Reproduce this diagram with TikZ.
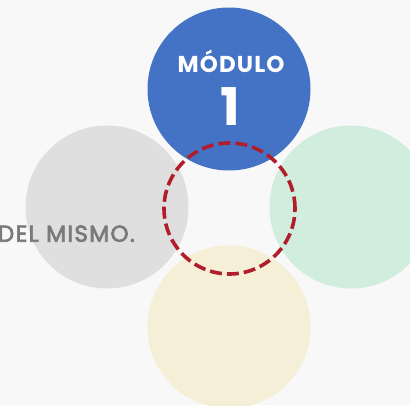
\documentclass[tikz,border=0pt]{standalone}
\usepackage{fontspec}
\setmainfont{Poppins}
\definecolor{bgcol}{HTML}{F8F8F8}
\definecolor{modblue}{HTML}{4472C4}
\definecolor{modgray}{HTML}{DFDFDF}
\definecolor{modgreen}{HTML}{D1EDDE}
\definecolor{modyellow}{HTML}{F5EFD7}
\definecolor{ringred}{HTML}{B01E2B}
\definecolor{textgray}{HTML}{7A7A7A}
\begin{document}
\begin{tikzpicture}[x=1pt,y=-1pt,
    bubble/.style={circle,inner sep=0pt,minimum size=163pt},
    ring/.style={circle,inner sep=0pt,minimum size=131pt,draw=ringred,line width=3.6pt,dash pattern=on 12pt off 5pt}]
    \useasboundingbox (0,0) rectangle (410,405);
    \clip (0,0) rectangle (410,405);
    \fill[bgcol](0,0) rectangle (410,405);
    \node[bubble,fill=modblue](mod1) at (229,89){};
    \node[bubble,fill=modgray](mod2) at (107,207){};
    \node[bubble,fill=modgreen](mod3) at (351,207){};
    \node[bubble,fill=modyellow](mod4) at (229,327){};
    \node[ring](centro) at (229.5,208.5){};
    \node[anchor=base,text=white,font=\bfseries\fontsize{23}{23}\selectfont\addfontfeatures{LetterSpace=5},inner sep=0pt](titulo) at (231,72.7){MÓDULO};
    \node[anchor=base,text=white,font=\bfseries\fontsize{52}{52}\selectfont,inner sep=0pt](numero) at (230,125){1};
    \node[anchor=base east,text=textgray,font=\fontsize{23}{23}\selectfont\addfontfeatures{LetterSpace=6,FakeBold=3},inner sep=0pt](lema) at (135,241.7){DEL MISMO.};
\end{tikzpicture}
\end{document}
